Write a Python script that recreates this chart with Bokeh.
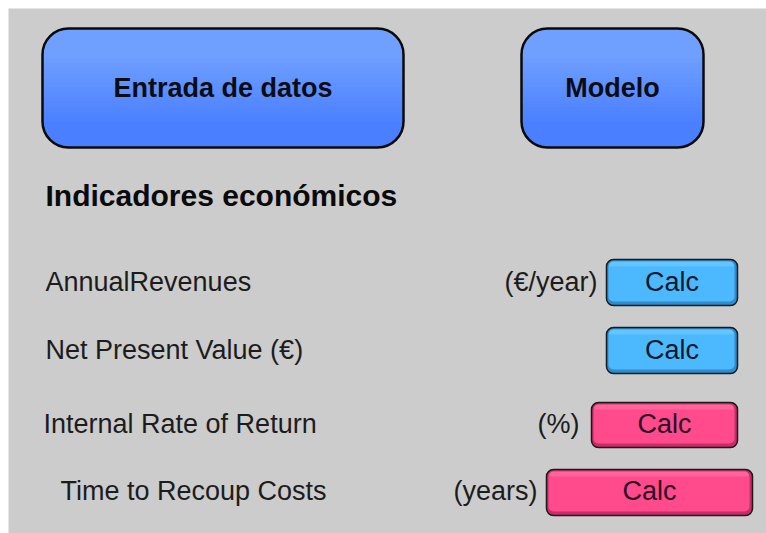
from bokeh.plotting import figure
from bokeh.models import Range1d
from bokeh.core.properties import value
from bokeh.embed import file_html
from bokeh.resources import INLINE

# ---------------- content (data) ----------------
nav_buttons = ["Entrada de datos", "Modelo"]
section_title = "Indicadores económicos"
indicators = ["AnnualRevenues", "Net Present Value (€)",
              "Internal Rate of Return", "Time to Recoup Costs"]
units = ["(€/year)", "", "(%)", "(years)"]
calc_labels = ["Calc", "Calc", "Calc", "Calc"]
calc_kind = ["blue", "blue", "pink", "pink"]

# ---------------- layout (page pixel coordinates, y downwards) ----------------
W, H, OFF = 758, 525, 8
FONT = value("Liberation Sans")
TEXT_SHIFT = 10

nav_left = [42, 521]
nav_right = [403, 703]
nav_top, nav_bottom, nav_radius = 28, 147, 26
nav_text_baseline = 97

title_x, title_baseline = 45, 205

label_x = [45, 45, 43, 60]
row_baseline = [291, 359, 433, 500]
unit_right = [597, 0, 579, 537]

calc_left = [606, 606, 591, 546]
calc_right = [737, 737, 737, 752]
calc_top = [259, 327, 402, 469]
calc_bottom = [305, 373, 447, 515]

styles = {
    "blue": dict(shade="#2e8ccc", main="#4cb9ff", light="#6ccaff", text="#10182e"),
    "pink": dict(shade="#c82d68", main="#ff4a8b", light="#ff6fa3", text="#2a0c26"),
}


def X(v):
    return v - OFF


def Y(v):
    return H - (v - OFF)


def TY(v):
    return Y(v - TEXT_SHIFT)


def mix(c1, c2, t):
    a = [int(c1[i:i + 2], 16) for i in (1, 3, 5)]
    b = [int(c2[i:i + 2], 16) for i in (1, 3, 5)]
    return "#%02x%02x%02x" % tuple(round(a[j] + (b[j] - a[j]) * t) for j in range(3))


p = figure(width=W + OFF, height=H + OFF, x_range=Range1d(0, W), y_range=Range1d(0, H),
           output_backend="svg", toolbar_location=None,
           min_border_left=OFF, min_border_top=OFF, min_border_right=0, min_border_bottom=0,
           x_axis_location=None, y_axis_location=None)
p.grid.visible = False
p.outline_line_color = None
p.background_fill_color = "#cccccc"
p.border_fill_color = "#ffffff"

# ---------------- navigation buttons ----------------
nav_bottom_col, nav_top_col = "#4a7fff", "#6f9fff"
L = [X(v) for v in nav_left]
R = [X(v) for v in nav_right]
p.quad(left=L, right=R, top=[Y(nav_top)] * 2, bottom=[Y(nav_bottom)] * 2,
       fill_color=nav_bottom_col, line_color=None, border_radius=nav_radius)
n = 14
y_hi = nav_bottom - nav_radius
y_lo = nav_top + nav_radius + 4
for k in range(n):
    yb = y_hi - (y_hi - y_lo) * k / (n - 1)
    col = mix(nav_bottom_col, nav_top_col, (k + 1) / n)
    p.quad(left=L, right=R, top=[Y(nav_top)] * 2, bottom=[Y(yb)] * 2,
           fill_color=col, line_color=None,
           border_radius=(nav_radius, nav_radius, 0, 0))
p.quad(left=L, right=R, top=[Y(nav_top)] * 2, bottom=[Y(nav_bottom)] * 2,
       fill_alpha=0, line_color="#0a0a0a", line_width=2.5, border_radius=nav_radius)
p.text(x=[(a + b) / 2 for a, b in zip(L, R)], y=[TY(nav_text_baseline)] * 2,
       text=nav_buttons, text_font=FONT, text_font_style="bold",
       text_font_size="27px", text_align="center", text_baseline="alphabetic",
       text_color="#0c0c14")

# ---------------- section title ----------------
p.text(x=[X(title_x)], y=[TY(title_baseline)], text=[section_title],
       text_font=FONT, text_font_style="bold", text_font_size="30px",
       text_align="left", text_baseline="alphabetic", text_color="#0a0a0a")

# ---------------- indicator labels ----------------
p.text(x=[X(v) for v in label_x], y=[TY(v) for v in row_baseline], text=indicators,
       text_font=FONT, text_font_size="27px", text_align="left",
       text_baseline="alphabetic", text_color="#1c1c1c")

ux = [X(unit_right[i]) for i in range(4) if units[i]]
uy = [TY(row_baseline[i]) for i in range(4) if units[i]]
ut = [u for u in units if u]
p.text(x=ux, y=uy, text=ut, text_font=FONT, text_font_size="27px",
       text_align="right", text_baseline="alphabetic", text_color="#1c1c1c")

# ---------------- Calc buttons ----------------
for i in range(4):
    s = styles[calc_kind[i]]
    l, r, t, b = calc_left[i], calc_right[i], calc_top[i], calc_bottom[i]
    p.quad(left=[X(l)], right=[X(r)], top=[Y(t)], bottom=[Y(b)],
           fill_color=s["shade"], line_color="#1a1a1a", line_width=1.5,
           border_radius=7)
    p.quad(left=[X(l + 2)], right=[X(r - 3)], top=[Y(t + 2)], bottom=[Y(b - 4)],
           fill_color=s["main"], line_color=None, border_radius=5)
    p.quad(left=[X(l + 3)], right=[X(r - 4)], top=[Y(t + 2)], bottom=[Y(t + 7)],
           fill_color=s["light"], fill_alpha=0.7, line_color=None,
           border_radius=(4, 4, 0, 0))
    p.text(x=[X((l + r) / 2)], y=[TY(row_baseline[i])], text=[calc_labels[i]],
           text_font=FONT, text_font_size="27px", text_align="center",
           text_baseline="alphabetic", text_color=s["text"])

open("out.html", "w").write(file_html(p, INLINE))
